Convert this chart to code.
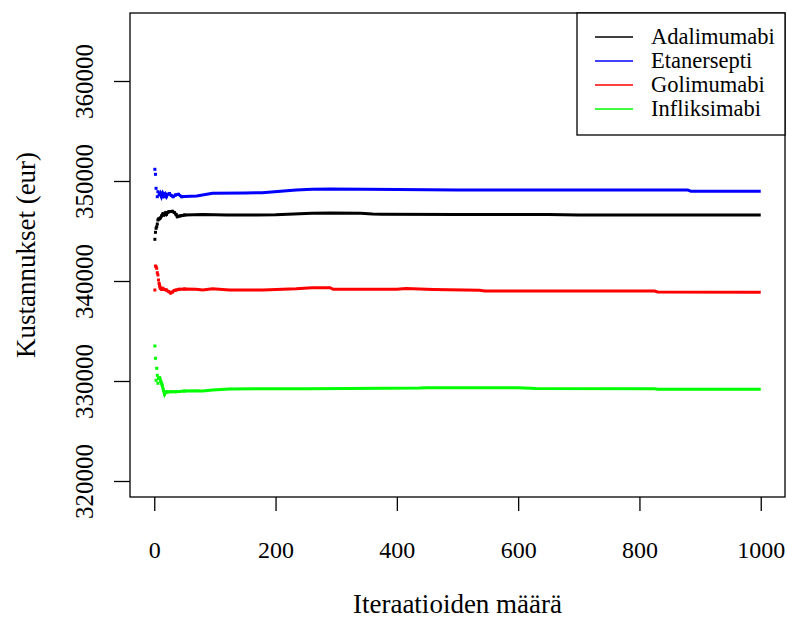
<!DOCTYPE html>
<html>
<head>
<meta charset="utf-8">
<script src="https://cdn.jsdelivr.net/npm/d3@7"></script>
<style>
  body { margin: 0; background: #fff; }
  svg text { font-family: 'Liberation Serif', 'DejaVu Serif', serif; fill: #000; }
</style>
</head>
<body>
<div id="chart"></div>
<script>
// cumulative mean cost per iteration: [iteration, eur]
const adalimumabi = [
  [1, 344170], [2, 344870], [3, 345270], [4, 345430], [5, 345700], [6, 346100],
  [7, 346200], [8, 346200], [10, 346300], [12, 346500], [14, 346700], [16, 346600],
  [18, 346800], [20, 346650], [22, 346850], [24, 346930], [27, 346950], [30, 346970],
  [33, 346850], [36, 346650], [38, 346430], [42, 346500], [46, 346550], [50, 346600],
  [80, 346650], [120, 346600], [170, 346600], [200, 346620], [230, 346700],
  [260, 346770], [290, 346800], [340, 346770], [360, 346700], [375, 346680],
  [500, 346650], [650, 346640], [700, 346600], [1000, 346600]
]
const etanersepti = [
  [1, 351170], [2, 350670], [3, 349270], [5, 348430], [6, 348930], [8, 348600],
  [10, 348800], [12, 348430], [14, 348770], [16, 348500], [18, 348700], [20, 348430],
  [22, 348670], [25, 348750], [28, 348550], [31, 348430], [35, 348600], [40, 348670],
  [45, 348430], [50, 348450], [70, 348500], [96, 348770], [150, 348800], [178, 348830],
  [234, 349100], [260, 349170], [290, 349200], [400, 349150], [500, 349100],
  [700, 349100], [880, 349100], [885, 348970], [1000, 348970]
]
const golimumabi = [
  [1, 339100], [2, 341500], [3, 341430], [4, 341270], [5, 340830], [6, 340600],
  [7, 340100], [8, 339770], [9, 339500], [10, 339270], [12, 339170], [14, 339270],
  [17, 339150], [20, 339100], [24, 338930], [27, 338800], [30, 338900], [33, 339050],
  [36, 339100], [41, 339170], [50, 339200], [69, 339170], [80, 339100], [96, 339230],
  [124, 339100], [179, 339100], [234, 339230], [260, 339330], [290, 339330],
  [295, 339170], [400, 339170], [415, 339250], [460, 339150], [536, 339070],
  [545, 339000], [825, 339000], [830, 338900], [1000, 338880]
]
const infliksimabi = [
  [1, 333500], [2, 332270], [3, 330070], [4, 331270], [5, 330570], [6, 329770],
  [7, 330270], [9, 330330], [11, 329930], [13, 329600], [15, 329100], [17, 328670],
  [19, 328930], [22, 328900], [28, 328930], [35, 328930], [41, 328950], [50, 329000],
  [69, 329030], [80, 329000], [96, 329100], [124, 329200], [179, 329230], [250, 329230],
  [320, 329250], [437, 329300], [450, 329330], [600, 329330], [630, 329250],
  [825, 329230], [830, 329170], [1000, 329170]
]

const seriesNames = ['Adalimumabi', 'Etanersepti', 'Golimumabi', 'Infliksimabi']
const seriesColors = ['#000000', '#0000ff', '#ff0000', '#00ff00']
const xTicks = [0, 200, 400, 600, 800, 1000]
const yTicks = [320000, 330000, 340000, 350000, 360000]

const width = 787
const height = 618
const plot = { left: 130, right: 785, top: 13, bottom: 497 }

const svg = d3
  .select('#chart')
  .append('svg')
  .attr('width', width)
  .attr('height', height)

const xScale = d3
  .scaleLinear()
  .domain([-40, 1040])
  .range([plot.left, plot.right])

const yScale = d3
  .scaleLinear()
  .domain([318400, 366800])
  .range([plot.bottom, plot.top])

const allSeries = [adalimumabi, etanersepti, golimumabi, infliksimabi]

// the flat part is drawn as a thick line, the first iterations as loose dots
const line = d3
  .line()
  .x(d => xScale(d[0]))
  .y(d => yScale(d[1]))

allSeries.forEach(function(data, i) {
  svg
    .append('path')
    .datum(data.filter(d => d[0] >= 8))
    .attr('fill', 'none')
    .attr('stroke', seriesColors[i])
    .attr('stroke-width', 3)
    .attr('d', line)

  svg
    .selectAll('.dot-' + i)
    .data(data.filter(d => d[0] <= 60))
    .enter()
    .append('rect')
    .attr('class', 'dot-' + i)
    .attr('x', d => xScale(d[0]) - 1.5)
    .attr('y', d => yScale(d[1]) - 1.5)
    .attr('width', 3)
    .attr('height', 3)
    .attr('fill', seriesColors[i])
})

// axes
const xAxis = d3
  .axisBottom(xScale)
  .tickValues(xTicks)
  .tickSize(14)
  .tickFormat(d3.format('d'))

const xg = svg
  .append('g')
  .attr('transform', `translate(0,${plot.bottom})`)
  .call(xAxis)
xg.select('.domain').remove()
xg.selectAll('line').attr('stroke', '#000').attr('stroke-width', 1.3)
xg.selectAll('text')
  .attr('y', 61)
  .attr('dy', 0)
  .style('font-size', '24px')
  .style('font-family', "'Liberation Serif', serif")

const yAxis = d3
  .axisLeft(yScale)
  .tickValues(yTicks)
  .tickSize(16)
  .tickFormat(d3.format('d'))

const yg = svg
  .append('g')
  .attr('transform', `translate(${plot.left},0)`)
  .call(yAxis)
yg.select('.domain').remove()
yg.selectAll('line').attr('stroke', '#000').attr('stroke-width', 1.3)
yg.selectAll('text')
  .attr('transform', 'rotate(-90)')
  .attr('x', 0)
  .attr('y', -37)
  .attr('dy', 0)
  .attr('text-anchor', 'middle')
  .style('font-size', '25px')
  .style('font-family', "'Liberation Serif', serif")

// plot box
svg
  .append('rect')
  .attr('x', plot.left)
  .attr('y', plot.top)
  .attr('width', plot.right - plot.left)
  .attr('height', plot.bottom - plot.top)
  .attr('fill', 'none')
  .attr('stroke', '#000')
  .attr('stroke-width', 1.3)

// titles
svg
  .append('text')
  .attr('x', (plot.left + plot.right) / 2)
  .attr('y', 613)
  .attr('text-anchor', 'middle')
  .style('font-size', '27px')
  .text('Iteraatioiden määrä')

svg
  .append('text')
  .attr('transform', `translate(35,${(plot.top + plot.bottom) / 2}) rotate(-90)`)
  .attr('text-anchor', 'middle')
  .style('font-size', '27px')
  .text('Kustannukset (eur)')

// legend
const legend = svg.append('g')
legend
  .append('rect')
  .attr('x', 577)
  .attr('y', plot.top)
  .attr('width', plot.right - 577)
  .attr('height', 122)
  .attr('fill', '#fff')
  .attr('stroke', '#000')
  .attr('stroke-width', 1.3)

seriesNames.forEach(function(name, i) {
  const yPos = 37 + i * 24
  legend
    .append('line')
    .attr('x1', 595)
    .attr('x2', 633)
    .attr('y1', yPos)
    .attr('y2', yPos)
    .attr('stroke', seriesColors[i])
    .attr('stroke-width', 1.3)
  legend
    .append('text')
    .attr('x', 651)
    .attr('y', yPos + 7)
    .style('font-size', '22.5px')
    .text(name)
})
</script>
</body>
</html>
